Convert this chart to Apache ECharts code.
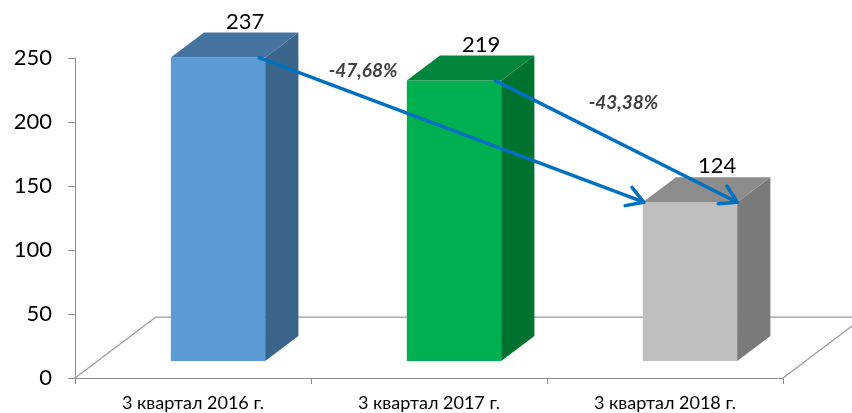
<!DOCTYPE html>
<html>
<head>
<meta charset="utf-8">
<script src="https://cdn.jsdelivr.net/npm/echarts@6/dist/echarts.min.js"></script>
<style>
html,body{margin:0;padding:0;background:#fff;}
#chart{width:852px;height:413px;}
</style>
</head>
<body>
<div id="chart"></div>
<script>
// ---- data ----
const categories = ['3 квартал 2016 г.', '3 квартал 2017 г.', '3 квартал 2018 г.'];
const values = [237, 219, 124];
const yTicks = [0, 50, 100, 150, 200, 250];
const changeLabels = ['-47,68%', '-43,38%'];
const changeFrom = [0, 1];
const changeTo = [2, 2];

// ---- styles ----
const frontColors = ['#5B9BD5', '#00B050', '#BFBFBF'];
const topColors = ['#4674A1', '#00853C', '#8C8C8C'];
const sideColors = ['#3A6489', '#00722F', '#7A7A7A'];
const axisColor = '#8C8C8C';
const arrowColor = '#0070C0';

const chart = echarts.init(document.getElementById('chart'), null, {renderer: 'canvas'});

function barGeom(api, i, v) {
  const top = api.coord([i, v]);
  const base = api.coord([i, 0]);
  const band = api.size([1, 0])[0];
  const depthX = band * 0.343;
  const depthY = depthX * 0.753;
  const lift = depthY * 0.28;
  const w = band * 0.40;
  const cx = top[0] + band * 0.106;
  const x0 = cx - w / 2, x1 = cx + w / 2;
  const yt = top[1] - lift, yb = base[1] - lift;
  const dx = depthX * 0.41, dy = depthY * 0.41;
  return {x0, x1, yt, yb, dx, dy};
}

const option = {
  animation: false,
  grid: {left: 75, right: 69, top: 58, bottom: 35},
  xAxis: {
    type: 'category',
    data: categories,
    axisLine: {show: true, lineStyle: {color: axisColor, width: 1}},
    axisTick: {show: true, length: 6, lineStyle: {color: axisColor}},
    axisLabel: {color: '#000', fontFamily: 'Lato', fontSize: 18, margin: 16}
  },
  yAxis: {
    type: 'value',
    min: yTicks[0],
    max: yTicks[yTicks.length - 1],
    interval: yTicks[1] - yTicks[0],
    axisLine: {show: true, lineStyle: {color: axisColor, width: 1}},
    axisTick: {show: true, length: 7, lineStyle: {color: axisColor}},
    splitLine: {show: false},
    axisLabel: {color: '#000', fontFamily: 'Lato', fontSize: 22, margin: 23}
  },
  series: [
    {
      // floor of the 3D plot
      type: 'custom',
      z: 1,
      silent: true,
      data: [[0, 0]],
      renderItem: function (params, api) {
        const cs = params.coordSys;
        const band = api.size([1, 0])[0];
        const depthX = band * 0.343;
        const depthY = depthX * 0.753;
        const fx0 = cs.x, fx1 = cs.x + cs.width, fy = cs.y + cs.height;
        const style = {stroke: '#9A9A9A', lineWidth: 1.3, fill: null};
        return {
          type: 'group',
          children: [
            {type: 'line', shape: {x1: fx0, y1: fy, x2: fx0 + depthX, y2: fy - depthY}, style},
            {type: 'line', shape: {x1: fx0 + depthX, y1: fy - depthY, x2: fx1 + depthX, y2: fy - depthY}, style},
            {type: 'line', shape: {x1: fx1, y1: fy, x2: fx1 + depthX, y2: fy - depthY}, style}
          ]
        };
      }
    },
    {
      type: 'custom',
      z: 3,
      data: values.map((v, i) => [i, v]),
      renderItem: function (params, api) {
        const i = params.dataIndex;
        const v = api.value(1);
        const g = barGeom(api, i, v);
        return {
          type: 'group',
          children: [
            {type: 'polygon', shape: {points: [[g.x0, g.yt], [g.x1, g.yt], [g.x1, g.yb], [g.x0, g.yb]]},
             style: {fill: frontColors[i]}},
            {type: 'polygon', shape: {points: [[g.x1, g.yt], [g.x1 + g.dx, g.yt - g.dy], [g.x1 + g.dx, g.yb - g.dy], [g.x1, g.yb]]},
             style: {fill: sideColors[i]}},
            {type: 'polygon', shape: {points: [[g.x0, g.yt], [g.x0 + g.dx, g.yt - g.dy], [g.x1 + g.dx, g.yt - g.dy], [g.x1, g.yt]]},
             style: {fill: topColors[i]}},
            {type: 'text', style: {text: String(v), x: (g.x0 + g.x1) / 2 + g.dx - 6, y: g.yt - g.dy - 11,
              align: 'center', verticalAlign: 'middle', fill: '#000', font: '22px Lato'}}
          ]
        };
      }
    },
    {
      // change arrows
      type: 'custom',
      z: 5,
      silent: true,
      data: changeLabels.map((t, k) => [changeFrom[k], changeTo[k]]),
      renderItem: function (params, api) {
        const k = params.dataIndex;
        const a = changeFrom[k], b = changeTo[k];
        const ga = barGeom(api, a, values[a]);
        const gb = barGeom(api, b, values[b]);
        const sx = ga.x1 - 6, sy = ga.yt;
        const ex = k === 0 ? gb.x0 + 1 : gb.x1, ey = gb.yt;
        const ang = Math.atan2(ey - sy, ex - sx);
        const L = 19, spread = 31 * Math.PI / 180;
        const h1 = [ex - L * Math.cos(ang - spread), ey - L * Math.sin(ang - spread)];
        const h2 = [ex - L * Math.cos(ang + spread), ey - L * Math.sin(ang + spread)];
        const st = {stroke: arrowColor, lineWidth: 3.5, lineCap: 'round', lineJoin: 'round', fill: null};
        const tPos = k === 0 ? 0.27 : 0.53;
        const lift = k === 0 ? 26 : 42;
        const lx = sx + (ex - sx) * tPos, ly = sy + (ey - sy) * tPos - lift;
        return {
          type: 'group',
          children: [
            {type: 'line', shape: {x1: sx, y1: sy, x2: ex, y2: ey}, style: st},
            {type: 'polyline', shape: {points: [h1, [ex, ey], h2]}, style: st},
            {type: 'text', style: {text: changeLabels[k], x: lx, y: ly, align: 'center', verticalAlign: 'middle',
              fill: '#404040', font: 'italic bold 19px Lato'}}
          ]
        };
      }
    }
  ]
};
chart.setOption(option);
</script>
</body>
</html>
